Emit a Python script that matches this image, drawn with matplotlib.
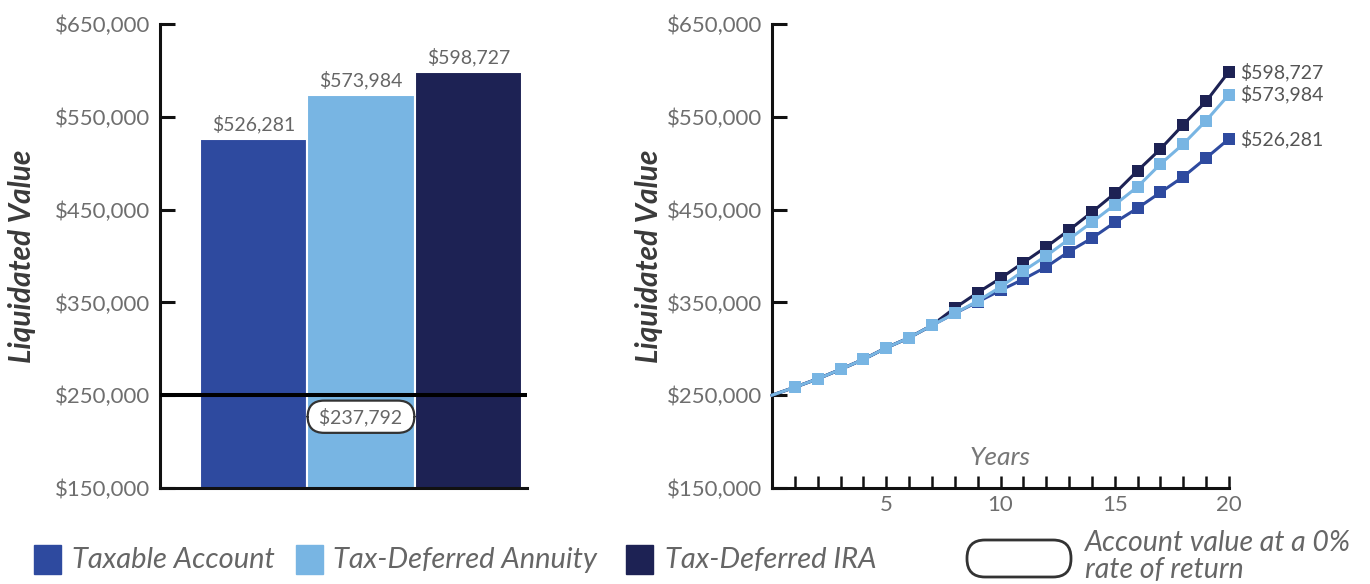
import matplotlib
matplotlib.use("Agg")
import matplotlib.pyplot as plt
from matplotlib.patches import FancyBboxPatch, Rectangle
from matplotlib.transforms import IdentityTransform
from matplotlib.ticker import FuncFormatter

# values
accounts = ["Taxable Account", "Tax-Deferred Annuity", "Tax-Deferred IRA"]
final_values = [526281, 573984, 598727]
initial_investment = 250000
zero_return_value = 237792

years = list(range(0, 21))
taxable = [250000, 258600, 267600, 277800, 288600, 301100, 311900, 325300, 338200, 350500,
           363000, 375000, 388200, 404800, 419200, 436100, 451600, 468500, 485400, 505600, 526281]
annuity = [250000, 258600, 267600, 277800, 288600, 301100, 311900, 325300, 338200, 351500,
           366600, 383900, 400100, 418100, 436400, 455200, 474600, 499100, 520700, 545900, 573984]
ira = [250000, 258600, 267600, 277800, 288600, 301100, 311900, 325300, 344000, 360500,
       376000, 392900, 409800, 427900, 447200, 467400, 491900, 515300, 541600, 566700, 598727]

colors = ["#2e4a9f", "#78b5e3", "#1d2254"]
line_z = [3, 5, 4]  # light annuity line sits on top where the lines overlap
tick_grey = "#6e6e6e"
axis_black = "#111111"

plt.rcParams["font.family"] = ["Lato", "DejaVu Sans"]

W, H = 1370, 584
fig = plt.figure(figsize=(W / 100, H / 100), dpi=100)


def money(v, pos=None):
    return f"${v:,.0f}"


def style_axis(ax):
    for side in ("top", "right"):
        ax.spines[side].set_visible(False)
    for side in ("left", "bottom"):
        ax.spines[side].set_linewidth(2.2)
        ax.spines[side].set_color(axis_black)
    ax.set_ylim(150000, 650000)
    ax.set_yticks(range(150000, 650001, 100000))
    ax.yaxis.set_major_formatter(FuncFormatter(money))
    ax.tick_params(axis="y", direction="in", length=11, width=2.2, color=axis_black,
                   labelsize=16, labelcolor=tick_grey, pad=7)


# ---- left: bar chart of liquidated values ----
ax1 = fig.add_axes([160 / W, 96 / H, 367 / W, 464 / H])
style_axis(ax1)
xpos = list(range(len(accounts)))
ax1.bar(xpos, final_values, width=1.0, color=colors, edgecolor="white", linewidth=1.5, zorder=2)
ax1.set_xlim(-0.873, 2.547)
ax1.set_xticks([])
ax1.axhline(initial_investment, color="black", linewidth=2.9, zorder=3)

for i, v in enumerate(final_values):
    ax1.annotate(money(v), xy=(i, v), xytext=(0, 4), textcoords="offset points",
                 ha="center", va="bottom", fontsize=14, color="#666666")

ax1.annotate(" " + money(zero_return_value) + " ", xy=(1, initial_investment), xytext=(0, -15.5),
             textcoords="offset points", ha="center", va="center", fontsize=14, color="#666666",
             zorder=4,
             bbox=dict(boxstyle="round,pad=0.35,rounding_size=0.85", fc="white", ec="#333333", lw=1.6))

ax1.text(-0.375, 0.5, "Liquidated Value", transform=ax1.transAxes, rotation=90,
         ha="center", va="center", fontsize=21.5, fontweight="bold", style="italic", color="#3a3a3a")

# ---- right: growth over 20 years ----
ax2 = fig.add_axes([772 / W, 96 / H, 457 / W, 464 / H])
style_axis(ax2)
ax2.set_xlim(0, 20)
series = [taxable, annuity, ira]
for k in range(len(series)):
    ax2.plot(years, series[k], color=colors[k], linewidth=2.2, marker="s", markersize=8.5,
             markeredgewidth=0, markevery=list(range(1, len(years))), clip_on=False, zorder=line_z[k])

for k in range(len(accounts)):
    ax2.annotate(money(series[k][-1]), xy=(years[-1], series[k][-1]), xytext=(8, 0),
                 textcoords="offset points", ha="left", va="center", fontsize=14, color="#555555")

ax2.set_xticks(years[1:])
ax2.set_xticklabels([str(y) if y % 5 == 0 else "" for y in years[1:]])
ax2.tick_params(axis="x", direction="in", length=8.5, width=1.8, color=axis_black,
                labelsize=16, labelcolor=tick_grey, pad=5)
ax2.text(0.5, 0.065, "Years", transform=ax2.transAxes, ha="center", va="center",
         fontsize=19, style="italic", color="#777777")
ax2.text(-0.27, 0.5, "Liquidated Value", transform=ax2.transAxes, rotation=90,
         ha="center", va="center", fontsize=21.5, fontweight="bold", style="italic", color="#3a3a3a")

# ---- legend row ----
patch_x = [34, 296, 626]
label_x = [72, 333, 665]
for k, name in enumerate(accounts):
    fig.add_artist(Rectangle((patch_x[k] / W, (H - 574) / H), 27 / W, 29 / H,
                             transform=fig.transFigure, color=colors[k]))
    fig.text(label_x[k] / W, (H - 568) / H, name, ha="left", va="baseline",
             fontsize=21, style="italic", color="#666666")

# pill sample, drawn in pixel units so the rounded ends stay circular
fig.add_artist(FancyBboxPatch((967, H - 577), 104, 37,
                              boxstyle="round,pad=0,rounding_size=18",
                              transform=IdentityTransform(),
                              fc="white", ec="#333333", lw=2))
fig.text(1085 / W, (H - 551) / H, "Account value at a 0%", ha="left", va="baseline",
         fontsize=20.5, style="italic", color="#666666")
fig.text(1085 / W, (H - 578) / H, "rate of return", ha="left", va="baseline",
         fontsize=20.5, style="italic", color="#666666")

fig.savefig("out.png", dpi=100)
